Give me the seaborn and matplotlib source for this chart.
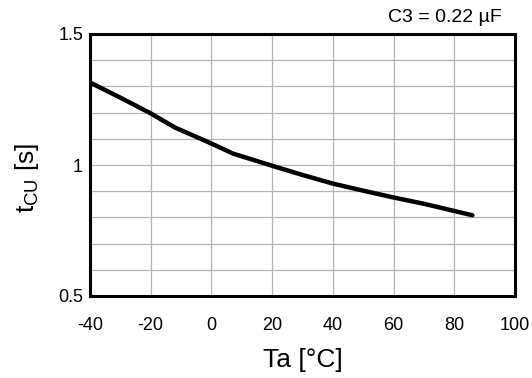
"""
Charge-up time vs ambient temperature (C3 = 0.22 uF).
"""
import numpy as np
import pandas as pd
import matplotlib
matplotlib.use('Agg')
import matplotlib.pyplot as plt
import seaborn as sns

# values
temp_c = [-40, -30, -20, -12, 0, 7, 20, 30, 40, 50, 60, 70, 86]
t_cu = [1.315, 1.257, 1.197, 1.143, 1.082, 1.044, 0.997, 0.962, 0.929, 0.902, 0.876, 0.852, 0.808]

x_ticks = [-40, -20, 0, 20, 40, 60, 80, 100]
y_ticks = [0.5, 1.0, 1.5]
y_tick_labels = ['0.5', '1', '1.5']

sns.set_theme(style='white')
plt.rcParams['font.family'] = ['Liberation Sans', 'DejaVu Sans']
plt.rcParams['mathtext.fontset'] = 'custom'
plt.rcParams['mathtext.rm'] = 'Liberation Sans'

df = pd.DataFrame({'Ta': temp_c, 'tcu': t_cu})

fig = plt.figure(figsize=(5.32, 3.78), dpi=100)
ax = fig.add_axes([90 / 532, 1 - 296 / 378, 425 / 532, 262 / 378])

sns.lineplot(data=df, x='Ta', y='tcu', ax=ax, color='black', linewidth=3.2)

ax.set_xlim(-40, 100)
ax.set_ylim(0.5, 1.5)
ax.set_xticks(x_ticks)
ax.set_xticklabels([str(v) for v in x_ticks])
ax.set_yticks(np.arange(0.5, 1.51, 0.1), minor=True)
ax.set_yticks(y_ticks)
ax.set_yticklabels(y_tick_labels)

ax.grid(True, which='both', color='#b4b4b4', linewidth=0.9)
ax.tick_params(axis='both', which='both', length=0, labelsize=13, colors='black')
ax.tick_params(axis='x', pad=15)
ax.tick_params(axis='y', pad=5)

for spine in ax.spines.values():
    spine.set_color('black')
    spine.set_linewidth(2.2)

ax.set_xlabel('Ta [°C]', fontsize=19, color='black', labelpad=10)
ax.set_ylabel(r'$\mathregular{t_{CU}}$ [s]', fontsize=19, color='black',
              labelpad=12, y=0.45)

fig.text(502 / 532, 1 - 18 / 378, 'C3 = 0.22 µF', ha='right', va='center',
         fontsize=14, color='black')

fig.savefig('out.png', dpi=100, facecolor='white')
